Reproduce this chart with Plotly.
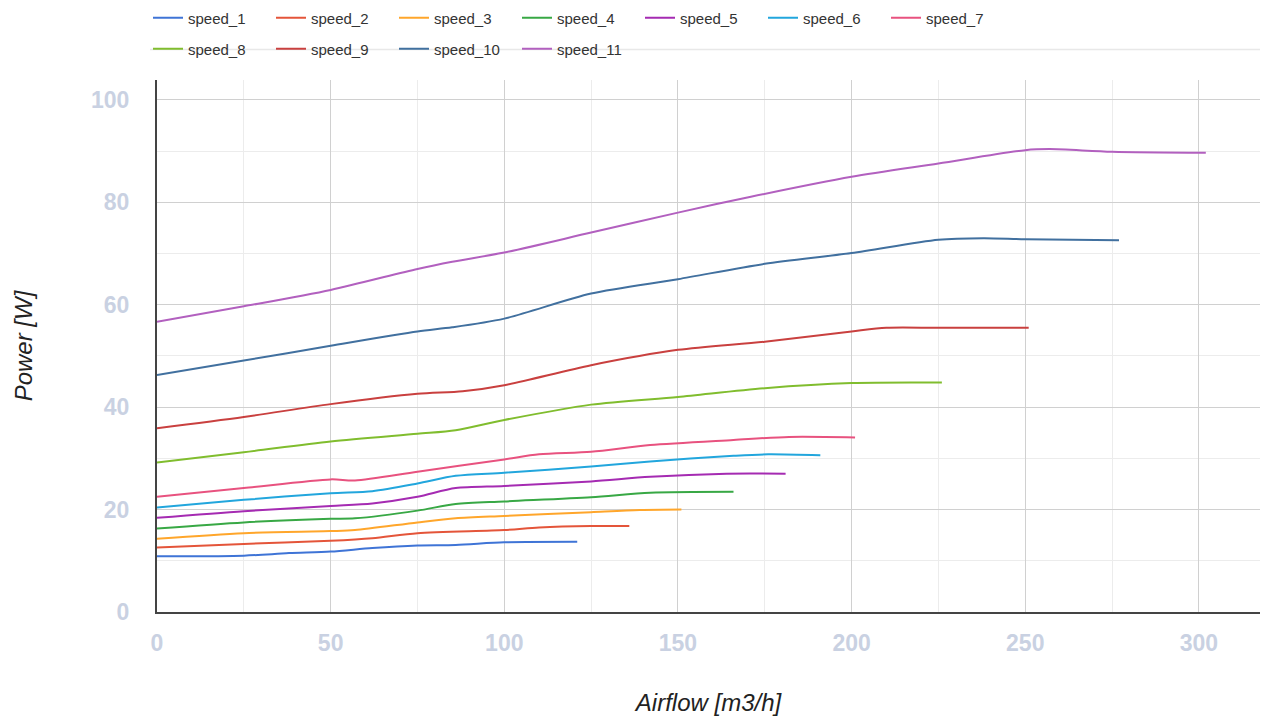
import plotly.graph_objects as go

names = ["speed_1", "speed_2", "speed_3", "speed_4", "speed_5", "speed_6",
         "speed_7", "speed_8", "speed_9", "speed_10", "speed_11"]

x1 = [0, 25, 38, 50, 62, 75, 86, 100, 121]
y1 = [10.9, 11.0, 11.5, 11.8, 12.5, 13.0, 13.1, 13.6, 13.7]
x2 = [0, 25, 50, 62, 75, 100, 110, 125, 136]
y2 = [12.6, 13.3, 13.9, 14.4, 15.4, 16.0, 16.5, 16.8, 16.8]
x3 = [0, 25, 50, 57, 75, 86, 100, 125, 139, 151]
y3 = [14.3, 15.4, 15.8, 16.0, 17.5, 18.3, 18.75, 19.5, 19.9, 20.0]
x4 = [0, 25, 50, 57, 75, 86, 100, 125, 142, 166]
y4 = [16.3, 17.5, 18.2, 18.3, 19.8, 21.1, 21.6, 22.4, 23.3, 23.5]
x5 = [0, 25, 50, 62, 75, 86, 100, 125, 142, 164, 181]
y5 = [18.4, 19.7, 20.7, 21.2, 22.5, 24.2, 24.6, 25.5, 26.4, 27.0, 27.0]
x6 = [0, 25, 50, 62, 75, 86, 100, 125, 142, 166, 176, 191]
y6 = [20.4, 21.9, 23.2, 23.6, 25.1, 26.6, 27.2, 28.4, 29.4, 30.5, 30.8, 30.6]
x7 = [0, 25, 50, 57, 75, 100, 110, 125, 142, 166, 182, 201]
y7 = [22.5, 24.2, 25.9, 25.7, 27.4, 29.8, 30.8, 31.3, 32.6, 33.6, 34.2, 34.1]
x8 = [0, 25, 50, 75, 86, 100, 125, 150, 175, 200, 226]
y8 = [29.2, 31.2, 33.3, 34.8, 35.5, 37.5, 40.5, 42.0, 43.7, 44.7, 44.8]
x9 = [0, 25, 50, 75, 88, 100, 125, 150, 175, 200, 210, 225, 251]
y9 = [35.9, 38.1, 40.6, 42.6, 43.1, 44.3, 48.2, 51.2, 52.8, 54.8, 55.5, 55.5, 55.5]
x10 = [0, 25, 50, 75, 85, 100, 125, 150, 175, 200, 225, 238, 250, 277]
y10 = [46.3, 49.1, 52.0, 54.8, 55.6, 57.3, 62.2, 65.0, 68.0, 70.1, 72.7, 73.0, 72.8, 72.6]
x11 = [0, 25, 50, 75, 85, 100, 125, 150, 171, 200, 225, 250, 257, 275, 302]
y11 = [56.7, 59.7, 62.9, 67.0, 68.4, 70.2, 74.1, 78.0, 81.1, 85.0, 87.6, 90.2, 90.4, 89.9, 89.7]

xs = [x1, x2, x3, x4, x5, x6, x7, x8, x9, x10, x11]
ys = [y1, y2, y3, y4, y5, y6, y7, y8, y9, y10, y11]

colors = ["#3f74d6", "#e4553a", "#ffa62b", "#38a845", "#a52bb2", "#22a6dd",
          "#e8527f", "#80bd2e", "#c9403f", "#41709f", "#b260bf"]

tick_color = "#c9d1e2"

# the page body adds an 8px offset; the figure is sized/placed to compensate
W, H = 1274, 715
OFF = 8

fig = go.Figure()
for i, (n, x, y, c) in enumerate(zip(names, xs, ys, colors)):
    fig.add_trace(go.Scatter(
        x=x, y=y, name=n, mode="lines",
        line=dict(color=c, width=2, shape="spline", smoothing=0.8),
        legend="legend" if i < 7 else "legend2",
    ))

legend_common = dict(
    orientation="h", xref="container", yref="container",
    xanchor="left", yanchor="middle",
    font=dict(family="Liberation Sans, Arial, sans-serif", size=15, color="#333333"),
    entrywidth=78, entrywidthmode="pixels",
    bgcolor="rgba(0,0,0,0)", traceorder="normal",
)

fig.update_layout(
    width=W, height=H,
    paper_bgcolor="white", plot_bgcolor="white",
    margin=dict(l=157 - OFF, r=22, t=80 - OFF, b=111, autoexpand=False),
    font=dict(family="Liberation Sans, Arial, sans-serif"),
    legend=dict(x=(148 - OFF) / W, y=1 - (18 - OFF) / H, **legend_common),
    legend2=dict(x=(148 - OFF) / W, y=1 - (49 - OFF) / H, **legend_common),
    showlegend=True,
)

fig.update_xaxes(
    range=[0, 317.6], tickvals=[0, 50, 100, 150, 200, 250, 300],
    showgrid=True, gridcolor="#d0d0d0", gridwidth=1,
    minor=dict(tickvals=[25, 75, 125, 175, 225, 275], showgrid=True, gridcolor="#ececec", gridwidth=1),
    showline=True, linecolor="#444444", linewidth=2,
    zeroline=False, ticks="", ticklabelstandoff=9,
    tickfont=dict(size=23, color=tick_color, weight="bold"),
    title=dict(text="<i>Airflow [m3/h]</i>", font=dict(size=24, color="#222222"), standoff=40),
)
fig.update_yaxes(
    range=[0, 103.9], tickvals=[0, 20, 40, 60, 80, 100],
    showgrid=True, gridcolor="#d0d0d0", gridwidth=1,
    minor=dict(tickvals=[10, 30, 50, 70, 90], showgrid=True, gridcolor="#ececec", gridwidth=1),
    showline=True, linecolor="#444444", linewidth=2,
    zeroline=False, ticks="", ticklabelstandoff=21,
    tickfont=dict(size=23, color=tick_color, weight="bold"),
    title=dict(text="<i>Power [W]</i>", font=dict(size=24, color="#222222"), standoff=52),
)

fig.add_shape(type="line", xref="paper", yref="paper",
              x0=-7 / 1103, x1=1.0, y0=(612 - 49.5) / 532, y1=(612 - 49.5) / 532,
              line=dict(color="#e8e8e8", width=1.5), layer="below")

fig.write_html("out.html")
